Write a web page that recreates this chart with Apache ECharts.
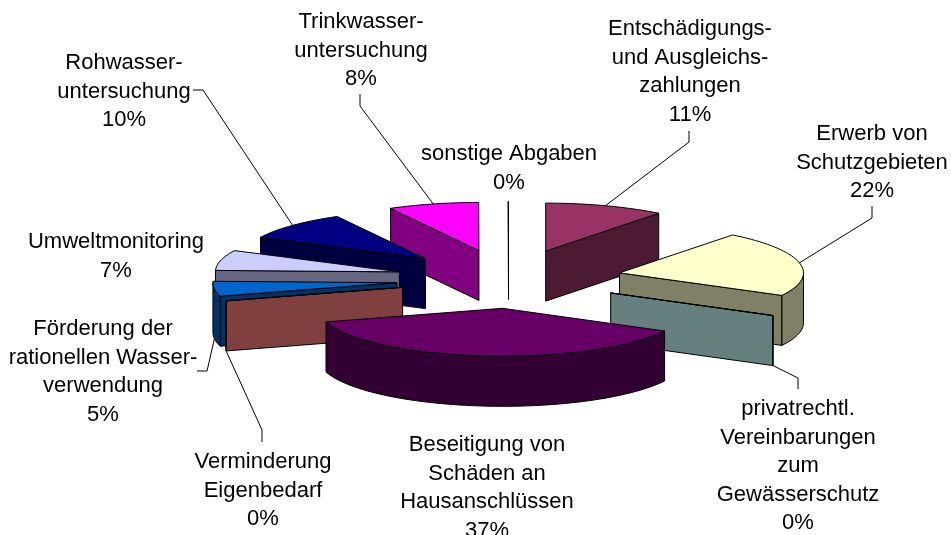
<!DOCTYPE html>
<html>
<head>
<meta charset="utf-8">
<style>html,body{margin:0;padding:0;background:#fff}#c{width:951px;height:535px}</style>
<script src="https://cdn.jsdelivr.net/npm/echarts@6/dist/echarts.min.js"></script>
</head>
<body>
<div id="c"></div>
<script>
// Data (clockwise from 12 o'clock)
const categories = [
  ['Entschädigungs-','und Ausgleichs-','zahlungen'],
  ['Erwerb von','Schutzgebieten'],
  ['privatrechtl.','Vereinbarungen','zum','Gewässerschutz'],
  ['Beseitigung von','Schäden an','Hausanschlüssen'],
  ['Verminderung','Eigenbedarf'],
  ['Förderung der','rationellen Wasser-','verwendung'],
  ['Umweltmonitoring'],
  ['Rohwasser-','untersuchung'],
  ['Trinkwasser-','untersuchung'],
  ['sonstige Abgaben']
];
const shares = [10.5, 22.2, 0.05, 37.49, 0.05, 5, 6.8, 9.7, 7.93, 0.02];

// Styling and layout, kept apart from the data
const topColors  = ['#993366','#FFFFCC','#CCFFFF','#660066','#FF8080','#0066CC','#CCCCFF','#000080','#FF00FF','#00FFFF'];
const sideColors = ['#4D1A33','#808066','#668080','#330033','#804040','#003366','#666680','#000040','#800080','#008080'];
const labelX = [690, 872, 798, 487, 263, 103, 116, 124, 361, 509];
const labelY = [29, 134, 409, 445, 462, 329, 242, 63, 22, 154];
const LINE_H = 28.6;
const explodeNudgeX = [0, 0, 2, 5, 2, 0, 0, -2, -2, -0.4];
const leaderElbows = [
  [[689,131],[689,142]],
  [[872,206],[872,218]],
  [[798,389],[798,378]],
  null,
  [[262,442],[262,430]],
  [[197,371],[207,371]],
  null,
  [[193,90],[203,90]],
  [[360,94],[360,106]],
  null
];
const CX = 509, CY = 279, RX = 184, RY = 48, EXPLODE = 0.614, DEPTH = 50;
const FONT = 'Liberation Sans';
const FONT_SIZE = 22;

const total = shares.reduce((a, b) => a + b, 0);
const slices = [];
let cum = 0;
shares.forEach((v, i) => {
  const a0 = cum / total * 2 * Math.PI;
  cum += v;
  const a1 = cum / total * 2 * Math.PI;
  const mid = (a0 + a1) / 2;
  slices.push({
    i, a0, a1, mid,
    ax: CX + EXPLODE * RX * Math.sin(mid) + explodeNudgeX[i],
    ay: CY - EXPLODE * RY * Math.cos(mid)
  });
});
// back-to-front painting order
const order = slices.slice().sort((p, q) => p.ay - q.ay);
const rank = {};
order.forEach((s, r) => { rank[s.i] = r; });

function rim(s, t) { return [s.ax + RX * Math.sin(t), s.ay - RY * Math.cos(t)]; }
function arc(s, t0, t1) {
  const n = Math.max(1, Math.ceil((t1 - t0) / (2 * Math.PI / 180)));
  const pts = [];
  for (let k = 0; k <= n; k++) pts.push(rim(s, t0 + (t1 - t0) * k / n));
  return pts;
}
const down = p => [p[0], p[1] + DEPTH];

function renderSlice(params, api) {
  const s = slices[api.value(0)];
  const children = [];
  const z = 10 + rank[s.i] * 10;
  const poly = (points, fill, dz) => children.push({
    type: 'polygon', shape: { points },
    style: { fill, stroke: '#000', lineWidth: 1, lineJoin: 'round' },
    z2: z + dz, silent: true
  });
  const side = sideColors[s.i], top = topColors[s.i];
  const apex = [s.ax, s.ay];
  if (Math.sin(s.a0) < -1e-6) {
    const p = rim(s, s.a0);
    poly([apex, p, down(p), down(apex)], side, 1);
  }
  if (Math.sin(s.a1) > 1e-6) {
    const p = rim(s, s.a1);
    poly([apex, p, down(p), down(apex)], side, 2);
  }
  const lo = Math.max(s.a0, Math.PI / 2), hi = Math.min(s.a1, 3 * Math.PI / 2);
  if (hi > lo) {
    const a = arc(s, lo, hi);
    poly(a.concat(a.map(down).reverse()), side, 3);
  }
  poly([apex].concat(arc(s, s.a0, s.a1)), top, 4);

  // leader line, anchored on the slice's rim
  const el = leaderElbows[s.i];
  if (el) {
    let anchor = rim(s, s.mid);
    if (Math.cos(s.mid) < 0) anchor = down(anchor);
    children.push({
      type: 'polyline', shape: { points: el.concat([anchor]) },
      style: { fill: null, stroke: '#000', lineWidth: 1 },
      z2: 200, silent: true
    });
  }
  // label
  const pct = Math.round(shares[s.i]) + '%';
  categories[s.i].concat([pct]).forEach((line, k) => {
    children.push({
      type: 'text', z2: 300, silent: true,
      style: {
        text: line, x: labelX[s.i], y: labelY[s.i] + k * LINE_H,
        align: 'center', verticalAlign: 'middle',
        fontFamily: FONT, fontSize: FONT_SIZE, fill: '#000'
      }
    });
  });
  return { type: 'group', children };
}

const chart = echarts.init(document.getElementById('c'), null, { renderer: 'canvas' });
chart.setOption({
  animation: false,
  backgroundColor: '#fff',
  series: [{
    type: 'custom',
    coordinateSystem: 'none',
    clip: false,
    renderItem: renderSlice,
    data: order.map(s => [s.i, shares[s.i]])
  }]
});
</script>
</body>
</html>
